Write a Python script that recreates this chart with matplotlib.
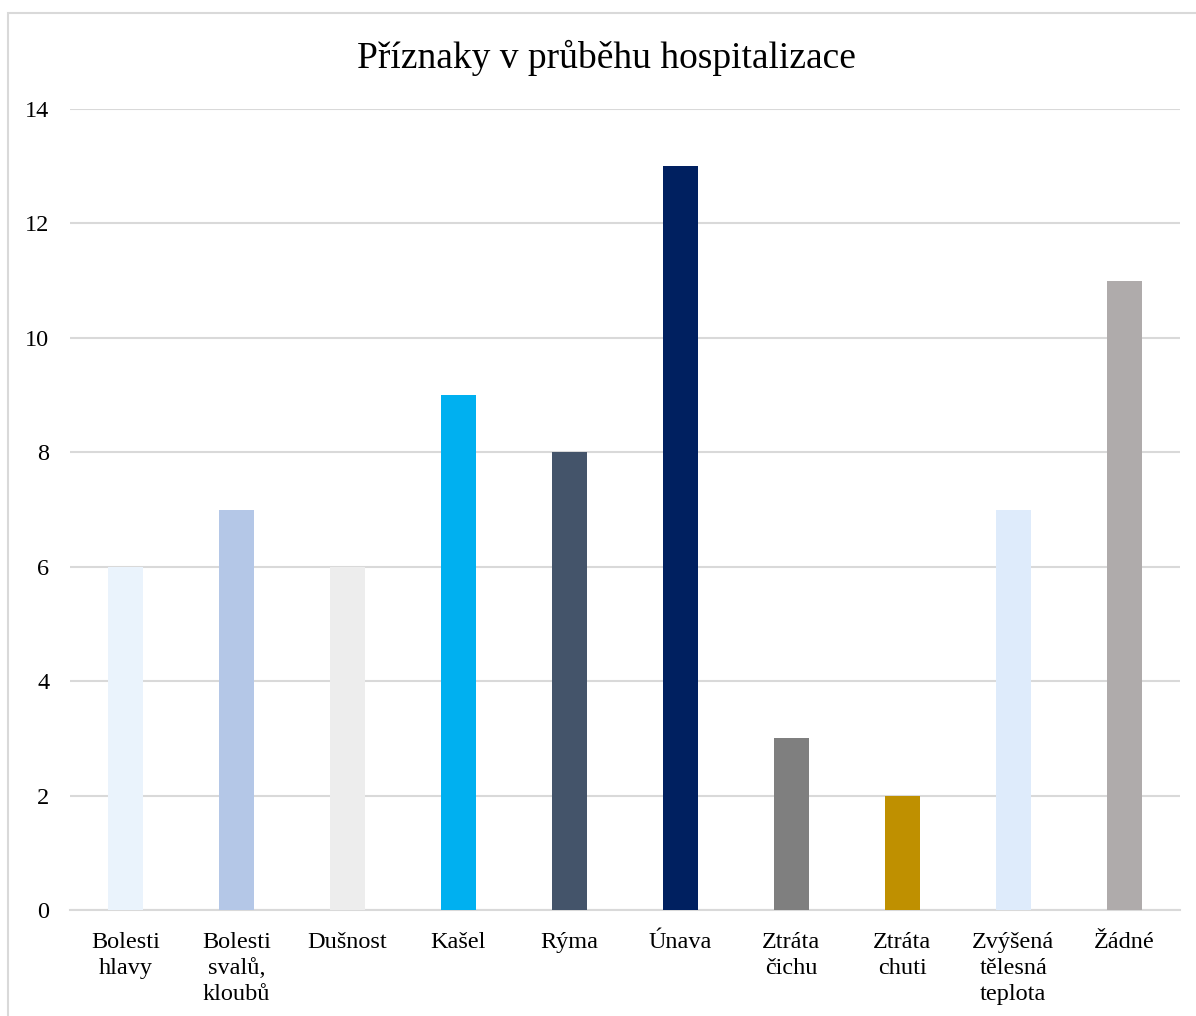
import numpy as np
import matplotlib
matplotlib.use('Agg')
import matplotlib.pyplot as plt
from matplotlib.patches import Rectangle

plt.rcParams['font.family'] = ['Liberation Serif', 'DejaVu Serif']

# data
categories = ['Bolesti\nhlavy', 'Bolesti\nsvalů,\nkloubů', 'Dušnost', 'Kašel', 'Rýma',
              'Únava', 'Ztráta\nčichu', 'Ztráta\nchuti', 'Zvýšená\ntělesná\nteplota', 'Žádné']
counts = [6, 7, 6, 9, 8, 13, 3, 2, 7, 11]
colors = ['#EAF3FC', '#B4C7E7', '#EDEDED', '#00B0F0', '#44546A',
          '#002060', '#7F7F7F', '#BF9000', '#DEEBFB', '#AFABAB']
yticks = [0, 2, 4, 6, 8, 10, 12, 14]

fig = plt.figure(figsize=(11.96, 10.16), dpi=100)
ax = fig.add_axes([0.0585, 0.1043, 0.928, 0.7884])

x = np.arange(len(categories))
ax.bar(x, counts, width=0.315, color=colors, zorder=3)

ax.set_xlim(-0.5, len(categories) - 0.5)
ax.set_ylim(0, 14)
ax.set_yticks(yticks)
ax.set_xticks(x)
ax.set_xticklabels(categories, fontsize=17.5, linespacing=1.32, va='top')
ax.tick_params(axis='y', labelsize=17.5, length=0, pad=15)
ax.tick_params(axis='x', length=0, pad=16)
ax.grid(axis='y', color='#D9D9D9', linewidth=1.5, zorder=0)
for side in ['top', 'right', 'left']:
    ax.spines[side].set_visible(False)
ax.spines['bottom'].set_color('#D9D9D9')
ax.spines['bottom'].set_linewidth(1.5)

fig.text(0.507, 0.943, 'Příznaky v průběhu hospitalizace', ha='center', va='center', fontsize=27)

# outer chart border (cropped at right and bottom)
fig.patches.append(Rectangle((8 / 1196, -0.1), 1.2, 1.1 - 13 / 1016, transform=fig.transFigure,
                             fill=False, edgecolor='#D9D9D9', linewidth=1.5))

plt.savefig('out.png', dpi=100)
plt.close()
